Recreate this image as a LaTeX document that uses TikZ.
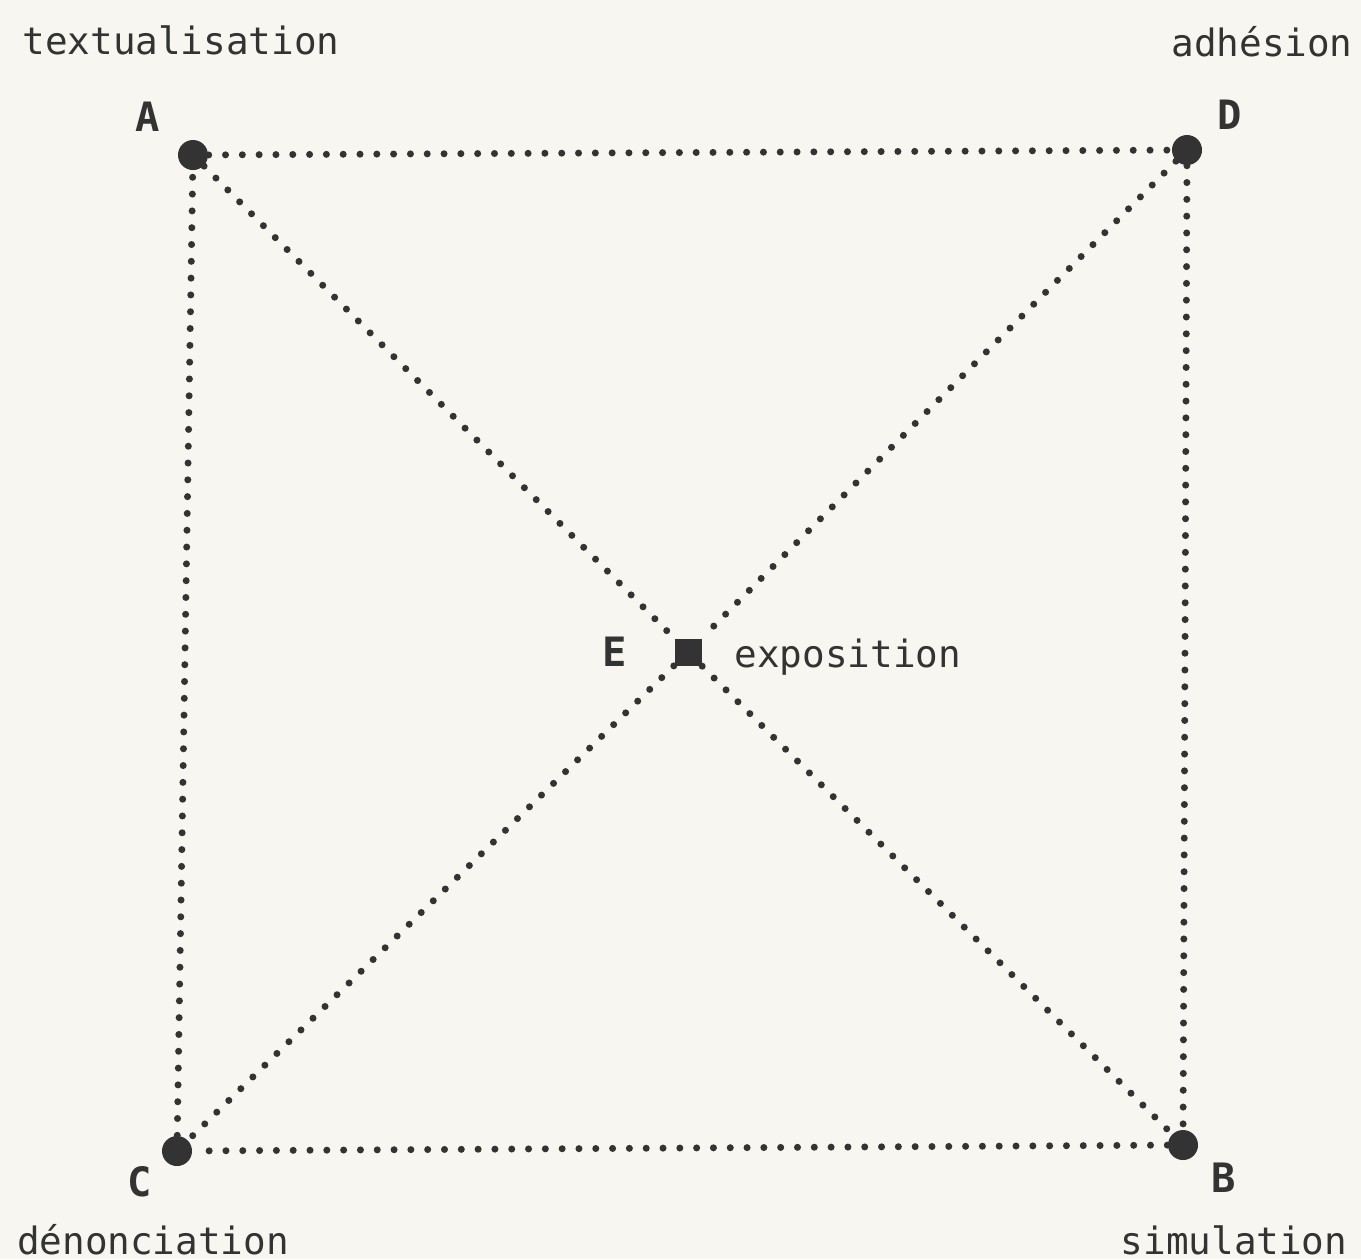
\documentclass[tikz,border=0pt]{standalone}
\usepackage{fontspec}
\setmonofont{DejaVu Sans Mono}
\usetikzlibrary{positioning}
\definecolor{ink}{HTML}{333333}
\definecolor{paper}{HTML}{F7F6F0}

\begin{document}
\begin{tikzpicture}[
  x=0.01cm, y=-0.01cm,
  pt/.style={circle, fill=ink, inner sep=0pt, minimum size=0.3cm},
  ctr/.style={rectangle, fill=ink, inner sep=0pt, minimum size=0.27cm},
  tag/.style={font=\fontsize{11.5}{13}\ttfamily\bfseries, text=ink, inner sep=1pt},
  word/.style={font=\fontsize{10.7}{12}\ttfamily, text=ink, inner sep=1pt},
  dotline/.style={draw=ink, line width=0.07cm, line cap=round, dash pattern=on 0pt off 0.168cm}
]
\fill[paper] (0,0) rectangle (1361,1259);
\useasboundingbox (0,0) rectangle (1361,1259);
% corners and centre
\node[pt] (A) at (193,155) {};
\node[pt] (D) at (1187,150) {};
\node[pt] (C) at (177,1151) {};
\node[pt] (B) at (1183,1145) {};
\node[ctr] (E) at (688,652) {};
% letters
\node[tag] (lA) at (148,117) {A};
\node[tag] (lD) at (1230,115) {D};
\node[tag] (lC) at (140,1182) {C};
\node[tag] (lB) at (1224,1178) {B};
\node[tag, left=0.43cm of E] (lE) {E};
% words
\node[word] (wA) at (181,40) {textualisation};
\node[word] (wD) at (1262,42) {adhésion};
\node[word] (wC) at (153,1240) {dénonciation};
\node[word] (wB) at (1234,1240) {simulation};
\node[word, right=0.28cm of E, yshift=-0.05cm] (wE) {exposition};
% dotted relations
\draw[dotline] (A) -- (D);
\draw[dotline] (D) -- (B);
\draw[dotline] (B) -- (C);
\draw[dotline] (C) -- (A);
\draw[dotline] (A) -- (E);
\draw[dotline] (E) -- (B);
\draw[dotline] (D) -- (E);
\draw[dotline] (E) -- (C);
\end{tikzpicture}
\end{document}
